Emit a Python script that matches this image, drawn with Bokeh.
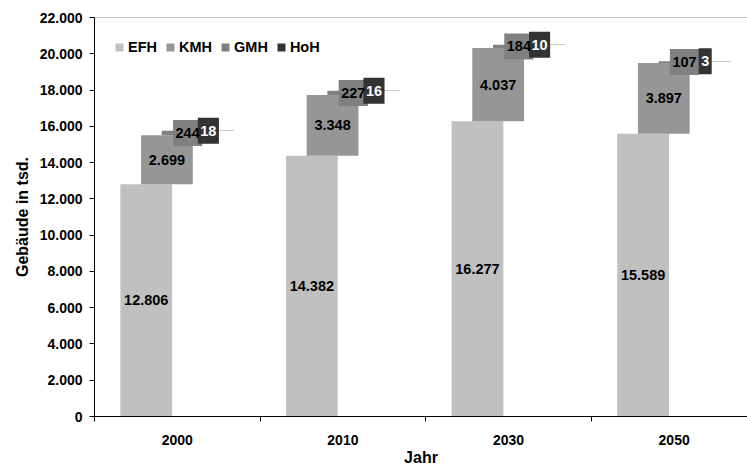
from bokeh.plotting import figure
from bokeh.models import Range1d, FixedTicker, Span, ColumnDataSource, LabelSet
from bokeh.core.properties import value
from bokeh.embed import file_html
from bokeh.resources import INLINE

# ---- data ----
years = ["2000", "2010", "2030", "2050"]
efh = [12806, 14382, 16277, 15589]
kmh = [2699, 3348, 4037, 3897]
gmh = [244, 227, 184, 107]
hoh = [18, 16, 10, 3]
series_names = ["EFH", "KMH", "GMH", "HoH"]
y_ticks = list(range(0, 22001, 2000))

# ---- style ----
colors = ["#C0C0C0", "#969696", "#808080", "#333333"]
text_colors = ["#000000", "#000000", "#000000", "#FFFFFF"]
offsets = [-0.1875, -0.0625, 0.0625, 0.1875]
bar_w = 0.3125
FONT = "Liberation Sans"
LBL = "14.5px"


def fmt(v):
    return f"{v:,}".replace(",", ".")


def text_w(s, size=14.5):
    w = 0.0
    for ch in s:
        w += 0.278 if ch == "." else 0.556
    return w * size + 5


p = figure(width=747, height=468,
           x_range=Range1d(0, 3.943), y_range=Range1d(0, 22000),
           output_backend="svg", toolbar_location=None,
           min_border_left=94, min_border_right=0,
           min_border_top=17, min_border_bottom=51)
p.outline_line_color = None
p.grid.visible = False
p.background_fill_color = "white"
p.border_fill_color = "white"

series_vals = [efh, kmh, gmh, hoh]
centers = [i + 0.5 for i in range(len(years))]

# bars
bottoms = [0] * len(years)
layers = []
for k, vals in enumerate(series_vals):
    tops = [b + v for b, v in zip(bottoms, vals)]
    xs = [c + offsets[k] for c in centers]
    src = ColumnDataSource(dict(x=xs, bottom=list(bottoms), top=tops,
                                y=[(b + t) / 2 for b, t in zip(bottoms, tops)],
                                text=[fmt(v) for v in vals],
                                w=[text_w(fmt(v)) for v in vals]))
    p.vbar(x="x", bottom="bottom", top="top", width=bar_w, source=src,
           fill_color=colors[k], line_color=None, legend_label=series_names[k])
    layers.append(src)
    bottoms = tops

# labels with boxes
for k, src in enumerate(layers):
    p.rect(x="x", y="y", width="w", height=26, width_units="screen",
           height_units="screen", source=src, fill_color=colors[k], line_color=None)
    p.add_layout(LabelSet(x="x", y="y", text="text", source=src,
                          text_align="center", text_baseline="middle",
                          text_font=value(FONT), text_font_size=LBL,
                          text_font_style="bold", text_color=text_colors[k]))

# top border of plot area
p.add_layout(Span(location=22000, dimension="width", line_color="#888888", line_width=1))

# y axis
ya = p.yaxis[0]
ya.ticker = FixedTicker(ticks=y_ticks, minor_ticks=[])
ya.major_label_overrides = {t: fmt(t) for t in y_ticks}
ya.major_tick_out = 5
ya.major_tick_in = 0
ya.minor_tick_out = 0
ya.minor_tick_in = 0
ya.major_label_standoff = 7
ya.axis_label = "Gebäude in tsd."
ya.axis_label_standoff = 6

# x axis
xa = p.xaxis[0]
xa.ticker = FixedTicker(ticks=centers, minor_ticks=list(range(len(years) + 1)))
xa.major_label_overrides = {c: y for c, y in zip(centers, years)}
xa.major_tick_out = 0
xa.major_tick_in = 0
xa.minor_tick_out = 5
xa.minor_tick_in = 0
xa.major_label_standoff = 13
xa.axis_label = "Jahr"
xa.axis_label_standoff = 1

for ax in (xa, ya):
    ax.axis_line_color = "#000000"
    ax.major_tick_line_color = "#000000"
    ax.minor_tick_line_color = "#000000"
    ax.major_label_text_font = FONT
    ax.major_label_text_font_size = "14px"
    ax.major_label_text_font_style = "bold"
    ax.major_label_text_color = "#000000"
    ax.axis_label_text_font = FONT
    ax.axis_label_text_font_size = "16px"
    ax.axis_label_text_font_style = "bold"
    ax.axis_label_text_color = "#000000"

# legend
lg = p.legend[0]
lg.location = (20, 361)
lg.orientation = "horizontal"
lg.label_text_font = FONT
lg.label_text_font_size = LBL
lg.label_text_font_style = "bold"
lg.label_text_color = "#000000"
lg.glyph_width = 10
lg.glyph_height = 10
lg.label_height = 16
lg.label_standoff = 4
lg.spacing = 8
lg.padding = 0
lg.margin = 0
lg.border_line_color = None
lg.background_fill_alpha = 0

open("out.html", "w").write(file_html(p, INLINE))
